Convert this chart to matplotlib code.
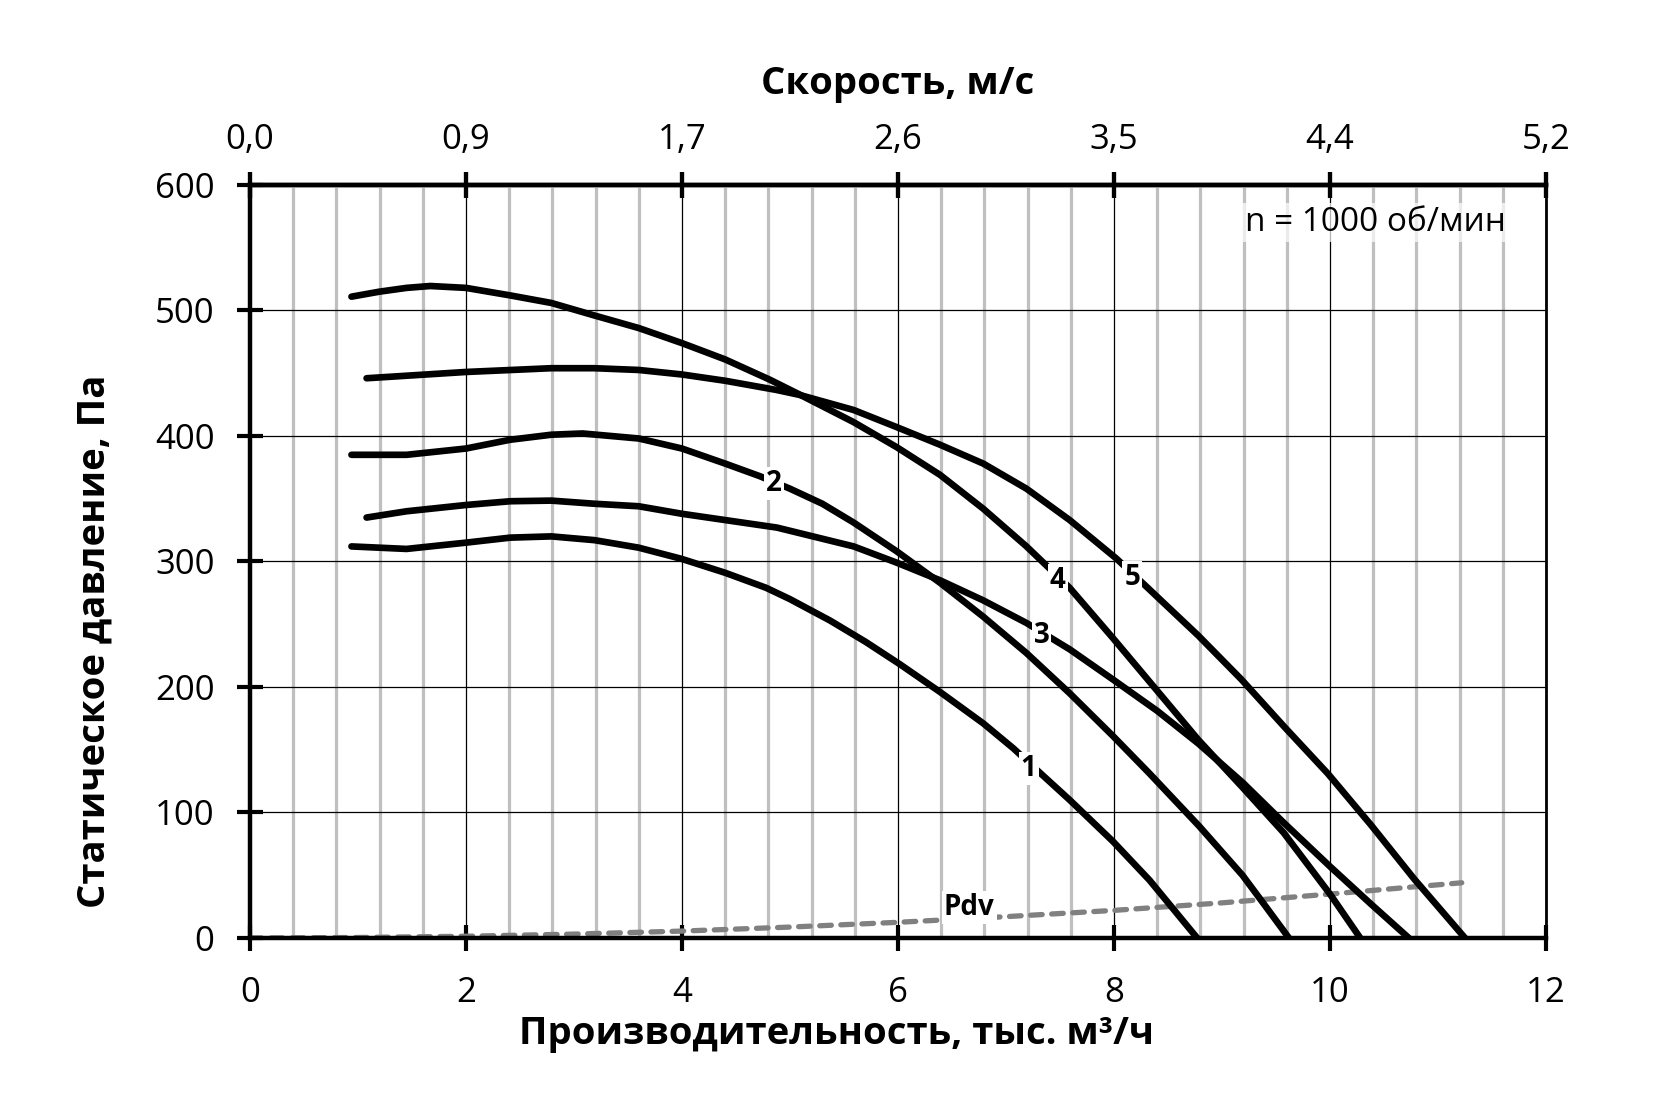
import numpy as np
import matplotlib
matplotlib.use("Agg")
import matplotlib.pyplot as plt
from matplotlib.ticker import MultipleLocator

plt.rcParams['font.family'] = ['Open Sans', 'DejaVu Sans']

# === DATA ===
# flow, thousand m3/h  ->  static pressure, Pa
x1 = [0.94, 1.45, 2.0, 2.41, 2.79, 3.19, 3.6, 4.0, 4.4, 4.78, 5.0, 5.37, 5.7, 6.02, 6.39, 6.79, 7.07, 7.31, 7.59, 7.99, 8.33, 8.77]
y1 = [312, 310, 315, 319, 320, 317, 311, 302, 291, 279, 270, 253, 236, 218, 196, 171, 151, 132, 110, 77, 46, 0]

x2 = [0.94, 1.45, 2.0, 2.41, 2.79, 3.08, 3.6, 4.0, 4.4, 4.72, 5.0, 5.3, 5.59, 5.99, 6.39, 6.79, 7.19, 7.59, 7.99, 8.33, 8.79, 9.19, 9.38, 9.62]
y2 = [385, 385, 390, 397, 401, 402, 398, 390, 378, 368, 358, 346, 331, 308, 283, 256, 227, 195, 161, 131, 89, 50, 28, 0]

x3 = [1.08, 1.45, 2.0, 2.41, 2.79, 3.19, 3.6, 4.0, 4.4, 4.88, 5.59, 5.99, 6.39, 6.79, 7.19, 7.59, 7.99, 8.4, 8.78, 9.19, 9.57, 10.0, 10.38, 10.73]
y3 = [335, 340, 345, 348, 348.5, 346, 344, 338, 333, 327, 312, 299, 285, 269, 251, 230, 206, 181, 155, 124, 92, 57, 27, 0]

x4 = [0.94, 1.2, 1.45, 1.67, 2.0, 2.41, 2.79, 3.19, 3.6, 4.0, 4.4, 4.81, 5.09, 5.59, 5.99, 6.39, 6.79, 7.19, 7.59, 7.99, 8.4, 8.78, 9.19, 9.57, 10.0, 10.28]
y4 = [511, 515, 518, 519.5, 518, 512, 506, 496, 486, 474, 461, 445, 433, 411, 391, 369, 342, 312, 279, 239, 197, 158, 120, 84, 35, 0]

x5 = [1.08, 2.0, 2.79, 3.19, 3.6, 4.0, 4.4, 4.88, 5.09, 5.59, 5.99, 6.39, 6.79, 7.19, 7.59, 8.02, 8.3, 8.78, 9.18, 9.58, 9.98, 10.38, 10.78, 11.25]
y5 = [446, 451, 454, 454, 452.6, 449, 444, 436.6, 432.7, 420.7, 407, 393, 378, 358, 333, 302.5, 280, 241, 206, 168, 131, 90, 47, 0]

# dynamic pressure
x_pdv = [0, 1, 2, 3, 4, 5, 6, 7, 8, 9, 10, 11.22]
y_pdv = [0, 0.4, 1.4, 3.1, 5.5, 8.7, 12.5, 17, 22, 28, 35, 44]

curves = [(x1, y1), (x2, y2), (x3, y3), (x4, y4), (x5, y5)]

# curve labels: text, x, y
curve_labels = [("1", 7.21, 135), ("2", 4.85, 362), ("3", 7.33, 241),
                ("4", 7.48, 285), ("5", 8.17, 287)]
pdv_label = ("Pdv", 6.66, 24)

x_ticks = [0, 2, 4, 6, 8, 10, 12]
y_ticks = [0, 100, 200, 300, 400, 500, 600]
speed_labels = ["0,0", "0,9", "1,7", "2,6", "3,5", "4,4", "5,2"]

# === PLOT ===
fig = plt.figure(figsize=(16.54, 11.03), dpi=100)
ax = fig.add_axes([0.1511, 0.1496, 0.7836, 0.6827])
ax.set_xlim(0, 12)
ax.set_ylim(0, 600)

for xs, ys in curves:
    ax.plot(xs, ys, color='black', lw=4.8, solid_capstyle='round',
            solid_joinstyle='round', zorder=3)

ax.plot(x_pdv, y_pdv, color='#808080', lw=3.8, dashes=(2.2, 1.8),
        dash_capstyle='round', zorder=2.5)

for txt, lx, ly in curve_labels:
    ax.text(lx, ly, txt, fontsize=20, fontweight='bold', ha='center', va='center',
            zorder=4, bbox=dict(facecolor='white', edgecolor='none', pad=1.5))
ax.text(pdv_label[1], pdv_label[2], pdv_label[0], fontsize=20, fontweight='bold',
        ha='center', va='center', zorder=4,
        bbox=dict(facecolor='white', edgecolor='none', pad=1.5))

ax.text(10.42, 570, "n = 1000 об/мин", fontsize=24, ha='center', va='center', zorder=4,
        bbox=dict(facecolor='white', edgecolor='none', alpha=0.7, pad=2))

# grid
ax.set_axisbelow(True)
ax.set_xticks(x_ticks)
ax.set_yticks(y_ticks)
ax.xaxis.set_minor_locator(MultipleLocator(0.4))
ax.grid(which='minor', axis='x', color='#bfbfbf', lw=2.3)
ax.grid(which='major', axis='both', color='black', lw=0.9)

for side in ['left', 'bottom', 'top']:
    ax.spines[side].set_linewidth(3.2)
ax.spines['right'].set_linewidth(2.0)

ax.tick_params(which='major', direction='inout', length=19, width=3.0,
               labelsize=25, top=True)
ax.tick_params(axis='x', which='major', pad=18)
ax.tick_params(axis='y', which='major', pad=16)
ax.tick_params(which='minor', length=0)

# top axis: speed
sec = ax.secondary_xaxis('top')
sec.set_xticks(x_ticks, labels=speed_labels)
sec.tick_params(direction='inout', length=19, width=3.0, labelsize=25, pad=11)
sec.spines['top'].set_linewidth(3.2)

fig.text(0.543, 0.9235, "Скорость, м/с", fontsize=27.5, fontweight='bold',
         ha='center', va='center')
fig.text(0.506, 0.0626, "Производительность, тыс. м³/ч", fontsize=27.5,
         fontweight='bold', ha='center', va='center')
fig.text(0.0574, 0.4189, "Статическое давление, Па", fontsize=27.5,
         fontweight='bold', ha='center', va='center', rotation=90)

fig.savefig("out.png", dpi=100, facecolor='white')
